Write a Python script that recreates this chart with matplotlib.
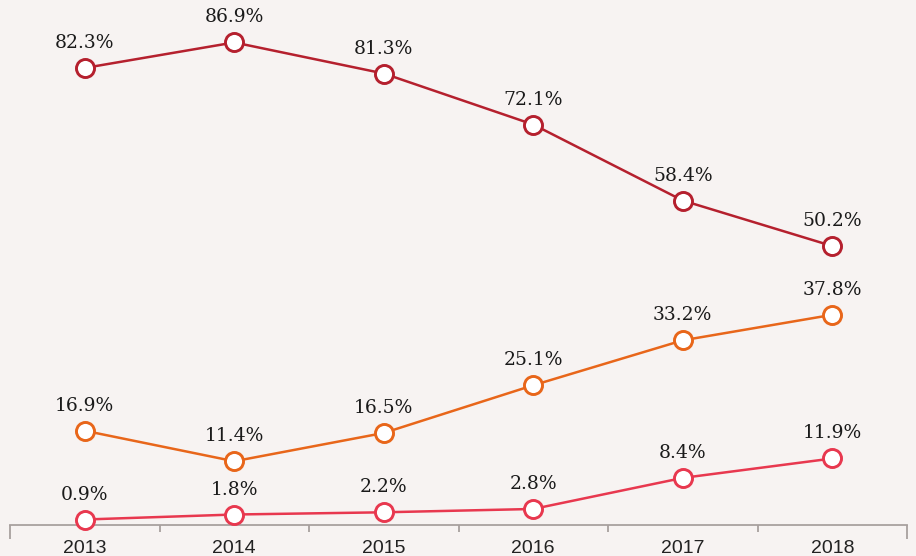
import matplotlib.pyplot as plt

plt.rcParams["font.family"] = ["Liberation Sans", "DejaVu Sans"]

years = ["2013", "2014", "2015", "2016", "2017", "2018"]
series_top = [82.3, 86.9, 81.3, 72.1, 58.4, 50.2]
series_mid = [16.9, 11.4, 16.5, 25.1, 33.2, 37.8]
series_low = [0.9, 1.8, 2.2, 2.8, 8.4, 11.9]

colors = ["#b5202e", "#e8661a", "#e8384f"]
bg = "#f7f3f2"
axis_c = "#a8a09e"

fig = plt.figure(figsize=(9.16, 5.56), dpi=100, facecolor=bg)
ax = fig.add_axes([10 / 916, 31.5 / 556, 897 / 916, 524.5 / 556])
ax.set_facecolor(bg)

x = range(len(years))
for vals, c in zip([series_top, series_mid, series_low], colors):
    ax.plot(x, vals, color=c, lw=1.8, marker="o", ms=13, mfc="white",
            mec=c, mew=2.1, zorder=3, clip_on=False)
    for xi, v in zip(x, vals):
        ax.annotate(f"{v}%", (xi, v), xytext=(0, 18), textcoords="offset points",
                    ha="center", va="center", fontsize=13.5,
                    family="DejaVu Serif", color="#1a1a1a")

n = len(years)
ax.set_xlim(-0.5, n - 0.5)
ax.set_ylim(0, 94.55)
for s in ["top", "right", "left"]:
    ax.spines[s].set_visible(False)
ax.spines["bottom"].set_color(axis_c)
ax.spines["bottom"].set_linewidth(1.3)
ax.set_yticks([])

# labels at centres, short ticks at inner boundaries
ax.set_xticks(list(x), years)
ax.tick_params(axis="x", which="major", length=0, labelsize=14, pad=11,
               labelcolor="#222222")
ax.set_xticks([i + 0.5 for i in range(n - 1)], minor=True)
ax.tick_params(axis="x", which="minor", length=5, color=axis_c, width=1.3)

# longer ticks at both ends
sec = ax.secondary_xaxis("bottom")
sec.set_xticks([-0.5, n - 0.5], ["", ""])
sec.tick_params(length=10, color=axis_c, width=1.3)
sec.spines["bottom"].set_visible(False)

fig.savefig("out.png", dpi=100, facecolor=bg)
